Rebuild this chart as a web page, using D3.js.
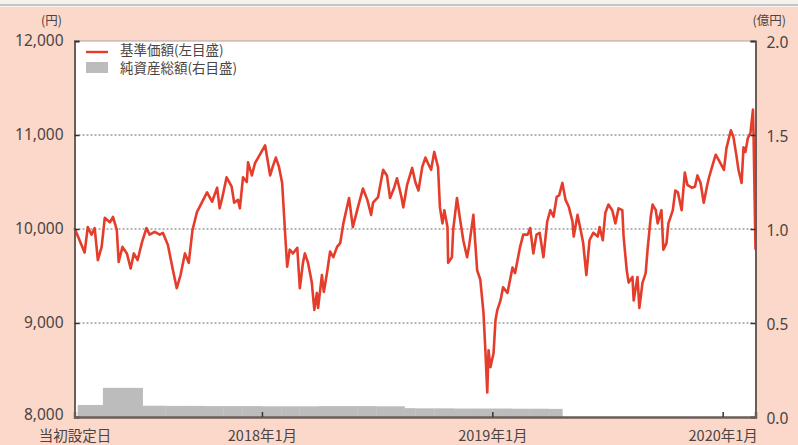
<!DOCTYPE html>
<html><head><meta charset="utf-8">
<script src="https://cdn.jsdelivr.net/npm/d3@7"></script>
<style>
html,body{margin:0;padding:0;background:#fff;}
svg{display:block;}
text{font-family:"Noto Sans CJK JP","Noto Sans",sans-serif;}
</style></head>
<body>
<svg id="c" width="798" height="445"></svg>
<script>
// ---- data ----
const navDates = ["2017-03-10","2017-03-26","2017-03-31","2017-04-06","2017-04-11","2017-04-16","2017-04-22","2017-04-27","2017-05-05","2017-05-10",
"2017-05-16","2017-05-19","2017-05-25","2017-06-01","2017-06-07","2017-06-12","2017-06-18","2017-06-25","2017-07-02","2017-07-07",
"2017-07-15","2017-07-23","2017-07-28","2017-08-05","2017-08-13","2017-08-19","2017-08-25","2017-09-01","2017-09-07","2017-09-13",
"2017-09-20","2017-10-06","2017-10-14","2017-10-22","2017-10-26","2017-10-31","2017-11-06","2017-11-14","2017-11-18","2017-11-24",
"2017-11-27","2017-12-02","2017-12-08","2017-12-10","2017-12-16","2017-12-21","2017-12-26","2018-01-06","2018-01-14","2018-01-18",
"2018-01-23","2018-01-28","2018-02-02","2018-02-07","2018-02-10","2018-02-14","2018-02-19","2018-02-26","2018-03-02","2018-03-07",
"2018-03-10","2018-03-15","2018-03-21","2018-03-25","2018-03-29","2018-03-31","2018-04-06","2018-04-09","2018-04-14","2018-04-19",
"2018-04-24","2018-04-30","2018-05-05","2018-05-10","2018-05-19","2018-05-25","2018-06-02","2018-06-10","2018-06-17","2018-06-23",
"2018-06-26","2018-07-04","2018-07-12","2018-07-18","2018-07-23","2018-07-29","2018-08-03","2018-08-10","2018-08-13","2018-08-19",
"2018-08-27","2018-09-01","2018-09-06","2018-09-12","2018-09-17","2018-09-21","2018-09-26","2018-10-01","2018-10-07","2018-10-10",
"2018-10-14","2018-10-17","2018-10-22","2018-10-23","2018-10-29","2018-10-31","2018-11-06","2018-11-11","2018-11-16","2018-11-22",
"2018-11-25","2018-12-02","2018-12-05","2018-12-08","2018-12-13","2018-12-18","2018-12-21","2018-12-24","2018-12-26","2018-12-29",
"2019-01-03","2019-01-06","2019-01-09","2019-01-14","2019-01-18","2019-01-25","2019-02-02","2019-02-06","2019-02-14","2019-02-19",
"2019-02-26","2019-03-02","2019-03-07","2019-03-12","2019-03-17","2019-03-23","2019-03-29","2019-04-03","2019-04-08","2019-04-13",
"2019-04-17","2019-04-22","2019-04-27","2019-05-02","2019-05-08","2019-05-10","2019-05-16","2019-05-21","2019-05-25","2019-05-30",
"2019-06-04","2019-06-10","2019-06-17","2019-06-20","2019-06-25","2019-06-29","2019-07-04","2019-07-10","2019-07-15","2019-07-20",
"2019-07-26","2019-07-28","2019-08-02","2019-08-05","2019-08-11","2019-08-13","2019-08-19","2019-08-22","2019-08-27","2019-09-01",
"2019-09-04","2019-09-09","2019-09-12","2019-09-17","2019-09-20","2019-09-26","2019-09-29","2019-10-04","2019-10-07","2019-10-14",
"2019-10-18","2019-10-22","2019-10-28","2019-11-02","2019-11-06","2019-11-13","2019-11-18","2019-11-22","2019-11-27","2019-12-02",
"2019-12-07","2019-12-10","2019-12-16","2019-12-21","2019-12-26","2020-01-03","2020-01-07","2020-01-14","2020-01-18","2020-01-23",
"2020-01-26","2020-01-31","2020-02-03","2020-02-06","2020-02-10","2020-02-14","2020-02-18","2020-02-19","2020-02-22"];
const navValues = [10010,9750,10020,9940,10010,9670,9810,10120,10070,10130,
9990,9650,9810,9740,9580,9740,9670,9860,10010,9940,
9970,9940,9960,9830,9560,9370,9510,9740,9640,9990,
10180,10390,10290,10440,10220,10360,10550,10450,10280,10310,
10220,10550,10500,10710,10570,10700,10760,10890,10570,10660,
10760,10660,10490,9920,9600,9780,9740,9800,9370,9640,
9740,9640,9430,9140,9320,9160,9510,9330,9530,9760,
9700,9810,9850,10060,10330,10020,10230,10430,10310,10150,
10280,10340,10630,10570,10330,10430,10540,10340,10230,10470,
10650,10500,10410,10660,10760,10700,10630,10820,10660,10230,
10060,10200,10020,9640,9700,9990,10330,10100,9880,9700,
9810,10150,9850,9560,9460,9110,8710,8260,8710,8530,
8680,9030,9140,9240,9380,9320,9590,9530,9810,9940,
9940,10010,9740,9940,9960,9700,10080,10200,10130,10340,
10360,10490,10310,10240,10080,9920,10150,9990,9850,9510,
9880,9960,9920,10020,9880,10170,10260,10200,10060,10220,
10200,9920,9560,9430,9490,9240,9490,9160,9430,9530,
9780,10130,10260,10200,10060,10200,9780,9850,10060,10200,
10410,10390,10200,10600,10470,10440,10450,10570,10490,10280,
10450,10540,10680,10790,10730,10630,10860,11050,10980,10770,
10630,10490,10870,10820,10970,11020,11270,10980,9780];

// net assets (億円), each bar runs from its start date to the next start date
const assetDates = ["2017-03-15","2017-04-24","2017-06-26","2017-08-01","2017-09-01","2017-10-01","2017-11-01","2017-12-01",
"2018-01-01","2018-02-01","2018-03-01","2018-04-01","2018-05-01","2018-06-01","2018-07-01","2018-08-15","2018-09-01",
"2018-10-01","2018-11-01","2018-12-01","2019-01-01","2019-02-01","2019-03-01","2019-04-01","2019-04-22"];
const assetValues = [0.064,0.155,0.060,0.059,0.059,0.058,0.058,0.058,
0.057,0.057,0.057,0.058,0.058,0.058,0.057,0.047,0.046,
0.046,0.045,0.045,0.045,0.044,0.044,0.043];

const leftTicks = [8000,9000,10000,11000,12000];
const rightTicks = [0.0,0.5,1.0,1.5,2.0];
const xTickDates = ["2017-03-10","2018-01-01","2019-01-01","2020-01-01"];
const xTickLabels = ["当初設定日","2018年1月","2019年1月","2020年1月"];
const domainDates = ["2017-03-10","2020-02-22"];
const seriesNames = ["基準価額(左目盛)","純資産総額(右目盛)"];
const leftUnit = "(円)", rightUnit = "(億円)";

// ---- drawing ----
const P = d3.utcParse("%Y-%m-%d");
const svg = d3.select("#c");
const L = 74.5, R = 755.5, T = 41, B = 417;

// background
svg.append("rect").attr("width",798).attr("height",445).attr("fill","#fbd8c9");
svg.append("rect").attr("width",798).attr("height",7).attr("fill","#f4f1ef");
svg.append("line").attr("x1",0).attr("x2",798).attr("y1",5).attr("y2",5).attr("stroke","#b8b4b2").attr("stroke-width",1.5);
svg.append("rect").attr("x",L).attr("y",T).attr("width",R-L).attr("height",B-T).attr("fill","#fff");

const x = d3.scaleUtc().domain(domainDates.map(P)).range([L, R]);
const yL = d3.scaleLinear().domain([8000,12000]).range([B, T]);
const yR = d3.scaleLinear().domain([0,2]).range([B, T]);

// grid lines
svg.append("g").selectAll("line").data(leftTicks.filter(v=>v>8000 && v<12000)).join("line")
  .attr("x1",L).attr("x2",R).attr("y1",d=>yL(d)).attr("y2",d=>yL(d))
  .attr("stroke","#6e6e6e").attr("stroke-width",1.2).attr("stroke-dasharray","2,2");
// top frame
svg.append("line").attr("x1",L).attr("x2",R).attr("y1",T).attr("y2",T).attr("stroke","#a9a4a2").attr("stroke-width",1.2);

// bars
const bars = assetValues.map((v,i)=>({s:P(assetDates[i]), e:P(assetDates[i+1]), v}));
svg.append("g").selectAll("rect").data(bars).join("rect")
  .attr("x",d=>x(d.s)).attr("width",d=>x(d.e)-x(d.s)+0.3)
  .attr("y",d=>yR(d.v)).attr("height",d=>B-yR(d.v))
  .attr("fill","#bcbcbc");

// line
const nav = navValues.map((v,i)=>({d:P(navDates[i]), v}));
svg.append("path").datum(nav)
  .attr("d", d3.line().x(d=>x(d.d)).y(d=>yL(d.v)))
  .attr("fill","none").attr("stroke","#e53d2b").attr("stroke-width",2.6).attr("stroke-linejoin","round");

// axes
const axisColor = "#6b5d58";
const gL = svg.append("g").attr("transform",`translate(${L},0)`)
  .call(d3.axisLeft(yL).tickValues(leftTicks).tickFormat(d3.format(",")).tickSize(-5).tickPadding(11));
const gR = svg.append("g").attr("transform",`translate(${R},0)`)
  .call(d3.axisRight(yR).tickValues(rightTicks).tickFormat(d3.format(".1f")).tickSize(-5).tickPadding(11));
const gB = svg.append("g").attr("transform",`translate(0,${B})`)
  .call(d3.axisBottom(x).tickValues(xTickDates.map(P)).tickFormat((d,i)=>xTickLabels[i]).tickSize(-5).tickPadding(4));
[gL,gR,gB].forEach(g=>{
  g.select(".domain").attr("stroke",axisColor).attr("stroke-width",2);
  g.selectAll(".tick line").attr("stroke","#333").attr("stroke-width",1.5);
  g.selectAll("text").attr("fill","#4a4443").style("font-size","15.5px")
   .style("font-family","'Noto Sans','Noto Sans CJK JP',sans-serif");
});
gB.selectAll("text").style("font-family","'Noto Sans CJK JP','Noto Sans',sans-serif");
gB.selectAll(".tick").filter((d,i)=>i===0).select("line").remove();
gB.selectAll("text").attr("y",18.5).attr("dy","0.35em").style("font-size","14.5px");
gL.selectAll("text").attr("dy",d=>d===8000?"0.15em":"0.3em");
gR.selectAll("text").attr("dy","0.4em");
gB.select(".domain").attr("stroke-width",2.5);

// unit labels
svg.append("text").attr("x",62).attr("y",21).attr("text-anchor","end").attr("dy","0.35em")
  .attr("fill","#4a4443").style("font-size","12.5px").text(leftUnit);
svg.append("text").attr("x",786).attr("y",21).attr("text-anchor","end").attr("dy","0.35em")
  .attr("fill","#4a4443").style("font-size","12.5px").text(rightUnit);

// legend
const lg = svg.append("g");
lg.append("line").attr("x1",86).attr("x2",108).attr("y1",52).attr("y2",52).attr("stroke","#e53d2b").attr("stroke-width",2.4);
lg.append("rect").attr("x",86).attr("y",62).attr("width",22).attr("height",11).attr("fill","#bcbcbc");
lg.selectAll("text").data(seriesNames).join("text")
  .attr("x",120).attr("y",(d,i)=>50.5+i*18).attr("dy","0.36em")
  .attr("fill","#4a4443").style("font-size","13.5px").text(d=>d);
</script>
</body></html>
